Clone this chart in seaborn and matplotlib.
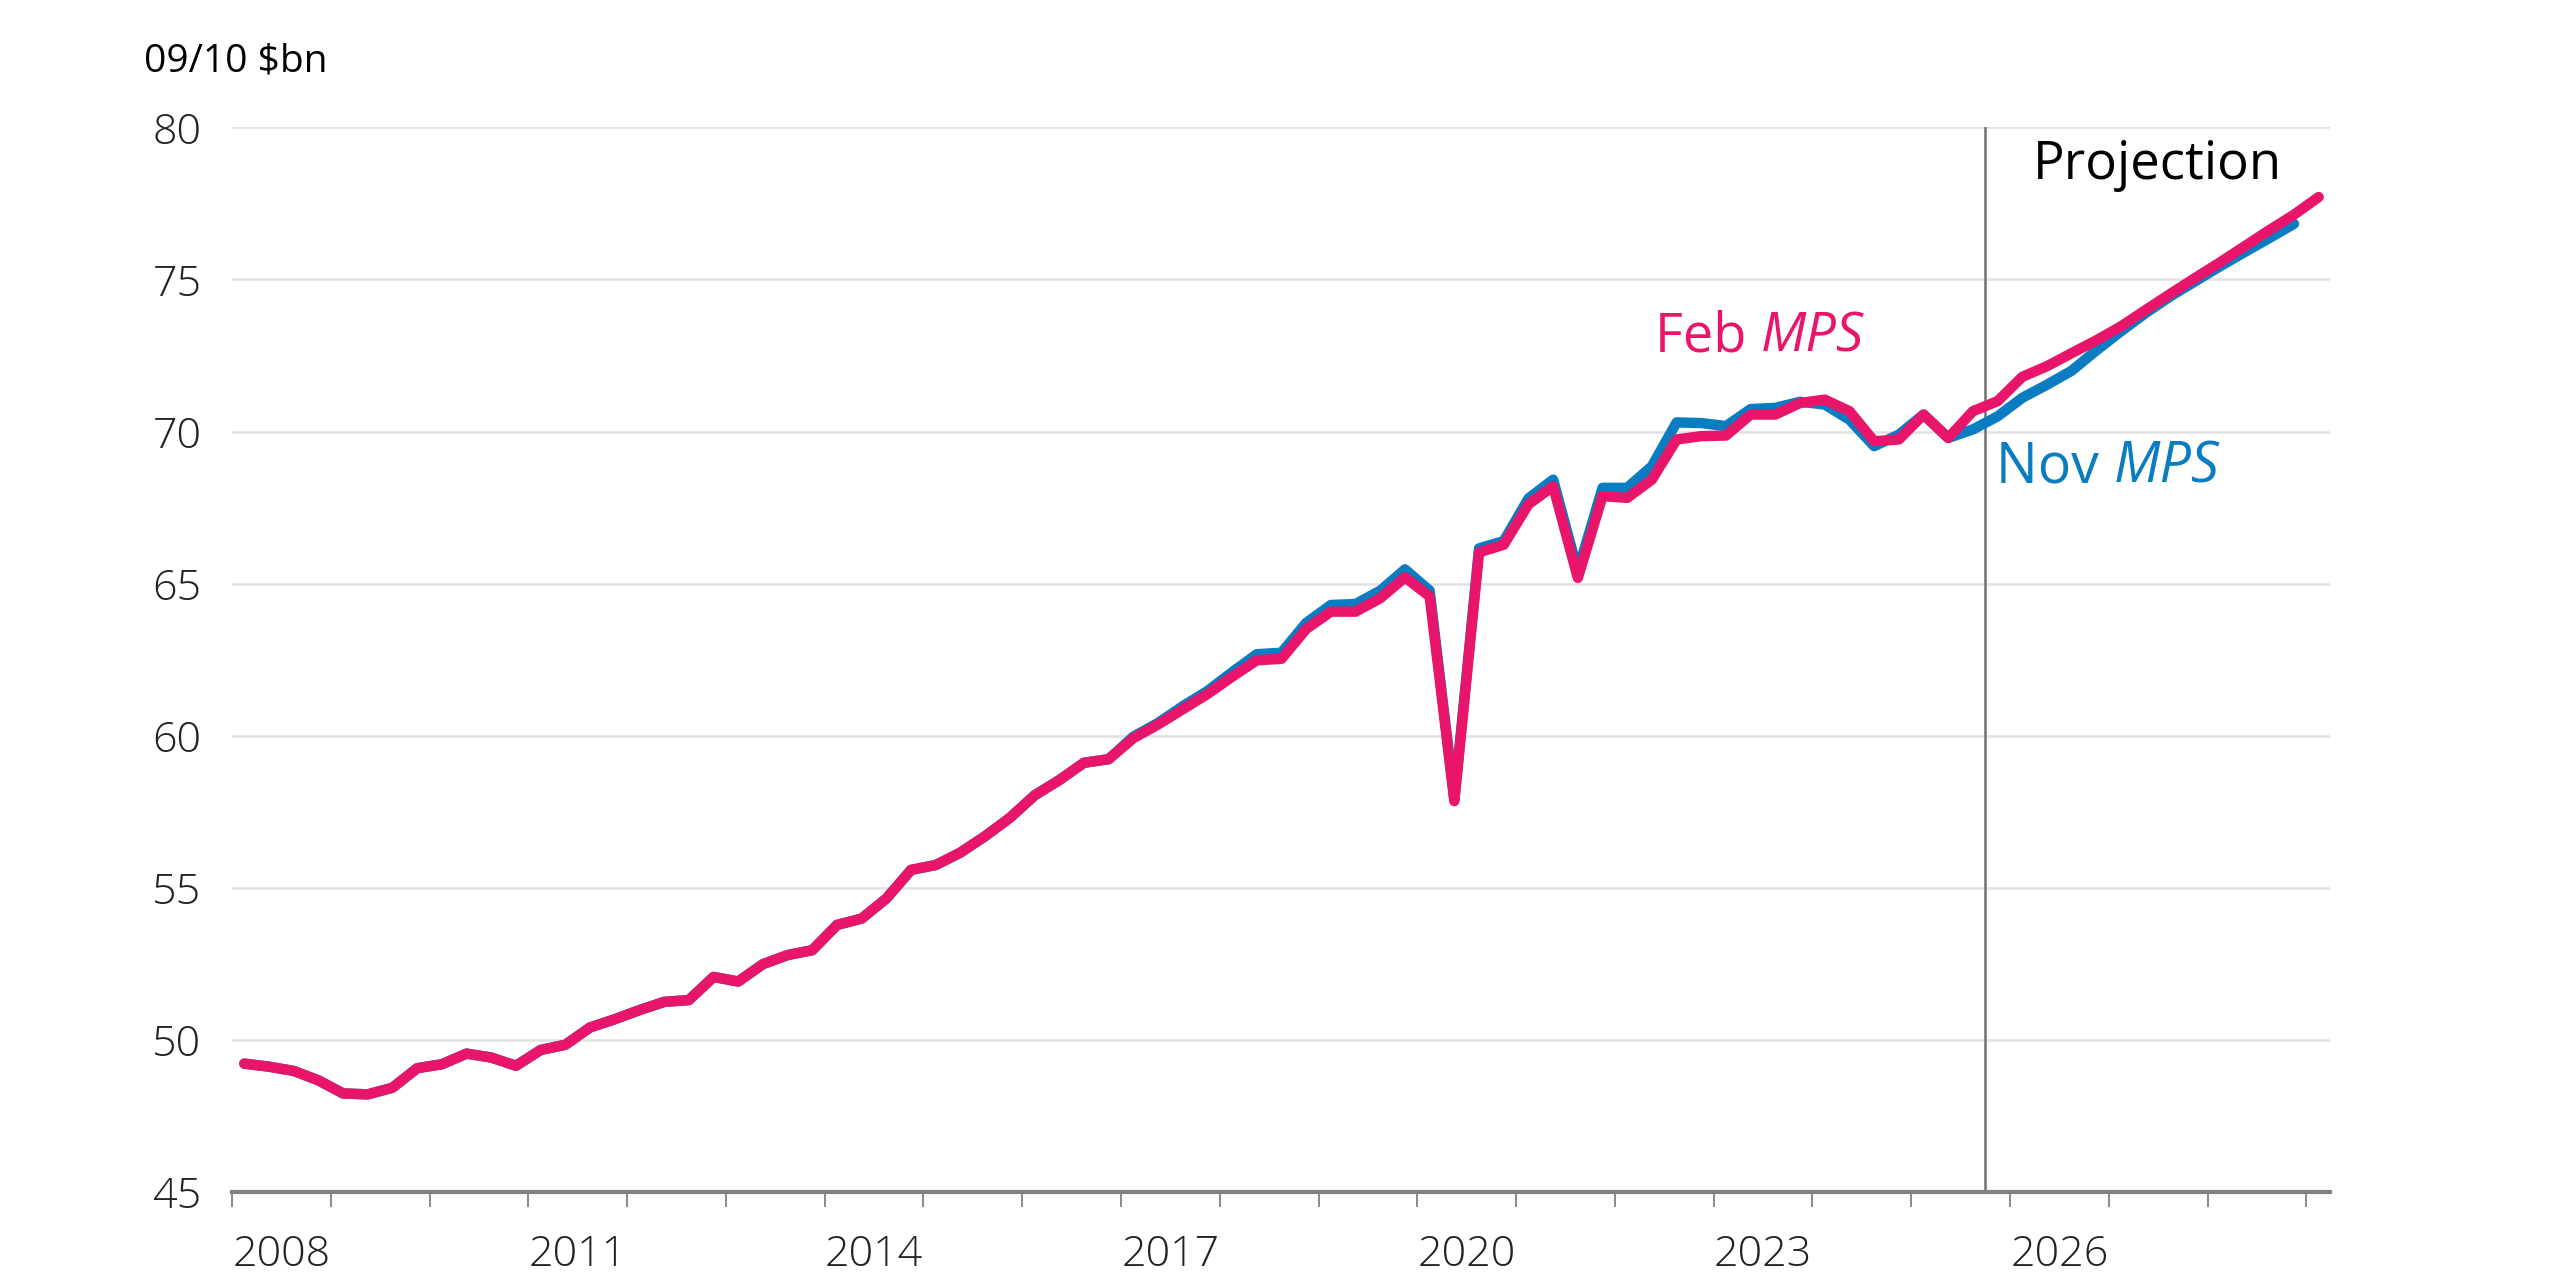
import numpy as np
import pandas as pd
import matplotlib
matplotlib.use("Agg")
import matplotlib.pyplot as plt
import seaborn as sns

# quarterly real GDP, 09/10 $bn
quarters = pd.period_range("2008Q1", "2029Q1", freq="Q")

feb_mps = [49.22, 49.12, 48.98, 48.67, 48.24, 48.21, 48.43, 49.07, 49.20, 49.55,
           49.42, 49.15, 49.67, 49.84, 50.41, 50.68, 50.98, 51.25, 51.31, 52.07,
           51.92, 52.49, 52.79, 52.95, 53.78, 53.99, 54.65, 55.59, 55.75, 56.16,
           56.70, 57.30, 58.04, 58.54, 59.11, 59.23, 59.92, 60.37, 60.87, 61.37,
           61.94, 62.48, 62.53, 63.51, 64.08, 64.08, 64.52, 65.21, 64.58, 57.85,
           66.03, 66.28, 67.61, 68.20, 65.19, 67.88, 67.82, 68.42, 69.74, 69.85,
           69.87, 70.56, 70.56, 70.94, 71.05, 70.67, 69.68, 69.74, 70.56, 69.79,
           70.67, 71.00, 71.80, 72.15, 72.58, 73.00, 73.46, 74.00, 74.53, 75.05,
           75.56, 76.09, 76.62, 77.13, 77.71]

nov_mps = [49.22, 49.12, 48.98, 48.67, 48.24, 48.21, 48.43, 49.07, 49.20, 49.55,
           49.42, 49.15, 49.67, 49.84, 50.41, 50.68, 50.98, 51.25, 51.31, 52.07,
           51.92, 52.49, 52.79, 52.95, 53.78, 53.99, 54.65, 55.59, 55.75, 56.16,
           56.70, 57.30, 58.04, 58.54, 59.11, 59.23, 59.97, 60.42, 60.97, 61.47,
           62.09, 62.68, 62.73, 63.71, 64.30, 64.33, 64.77, 65.47, 64.77, 57.90,
           66.16, 66.40, 67.80, 68.42, 65.40, 68.15, 68.15, 68.86, 70.30, 70.28,
           70.18, 70.74, 70.78, 70.98, 70.89, 70.39, 69.52, 69.90, 70.56, 69.79,
           70.07, 70.50, 71.11, 71.54, 72.00, 72.67, 73.30, 73.90, 74.45, 74.94,
           75.43, 75.90, 76.36, 76.83]

series_names = ["Nov MPS", "Feb MPS"]
colors = {"Nov MPS": "#0a7cc1", "Feb MPS": "#e8156b"}
year_labels = [2008, 2011, 2014, 2017, 2020, 2023, 2026]
projection_start = 2025.75

xpos = quarters.year + (quarters.quarter - 0.5) / 4
df = pd.concat([
    pd.DataFrame({"x": xpos[:len(nov_mps)], "gdp": nov_mps, "series": "Nov MPS"}),
    pd.DataFrame({"x": xpos[:len(feb_mps)], "gdp": feb_mps, "series": "Feb MPS"}),
], ignore_index=True)

sns.set_theme(style="white")
plt.rcParams['font.family'] = ['Open Sans', 'DejaVu Sans']

fig = plt.figure(figsize=(25.6, 12.8), dpi=100)
ax = fig.add_axes([232 / 2560, 88 / 1280, (2330 - 232) / 2560, (1192 - 127.4) / 1280])

sns.lineplot(data=df, x="x", y="gdp", hue="series", hue_order=series_names,
             palette=colors, linewidth=7.5, legend=False, ax=ax)

ax.set_xlim(2008, 2029.24)
ax.set_ylim(45, 80)
ax.set_yticks(range(45, 81, 5))
ax.grid(axis="y", color="#e3e3e3", linewidth=2)
ax.set_axisbelow(True)

# year ticks, labels every three years at mid-year
ax.set_xticks(range(2008, 2030))
ax.set_xticklabels([])
ax.set_xticks([y + 0.5 for y in year_labels], minor=True)
ax.set_xticklabels([str(y) for y in year_labels], minor=True)
ax.tick_params(axis="x", which="major", length=11, width=1.3, color="#808080", direction="out", bottom=True)
ax.tick_params(axis="x", which="minor", length=0, pad=30, labelsize=31, labelcolor="#222222")
ax.tick_params(axis="y", length=0, pad=22, labelsize=31, labelcolor="#222222")
for lab in ax.get_xticklabels(minor=True) + ax.get_yticklabels():
    lab.set_fontweight("light")

for s in ["left", "right", "top"]:
    ax.spines[s].set_visible(False)
ax.spines["bottom"].set_color("#808080")
ax.spines["bottom"].set_linewidth(3)
ax.set_xlabel("")
ax.set_ylabel("")

ax.axvline(projection_start, color="#707070", linewidth=1.8, zorder=1)

ax.text(2026.23, 78.76, "Projection", fontsize=38, color="black", va="center", ha="left")

t1 = ax.text(2022.41, 73.11, "Feb ", fontsize=39, color=colors["Feb MPS"], va="center", ha="left")
ax.annotate("MPS", xy=(1, 0), xycoords=t1, fontsize=39, color=colors["Feb MPS"],
            style="italic", va="bottom", ha="left")
t2 = ax.text(2025.86, 68.8, "Nov ", fontsize=40, color=colors["Nov MPS"], va="center", ha="left")
ax.annotate("MPS", xy=(1, 0), xycoords=t2, fontsize=40, color=colors["Nov MPS"],
            style="italic", va="bottom", ha="left")

fig.text(144 / 2560, 1 - 62 / 1280, "09/10 $bn", fontsize=28, color="black", va="center", ha="left")

fig.savefig("out.png", dpi=100, facecolor="white")
